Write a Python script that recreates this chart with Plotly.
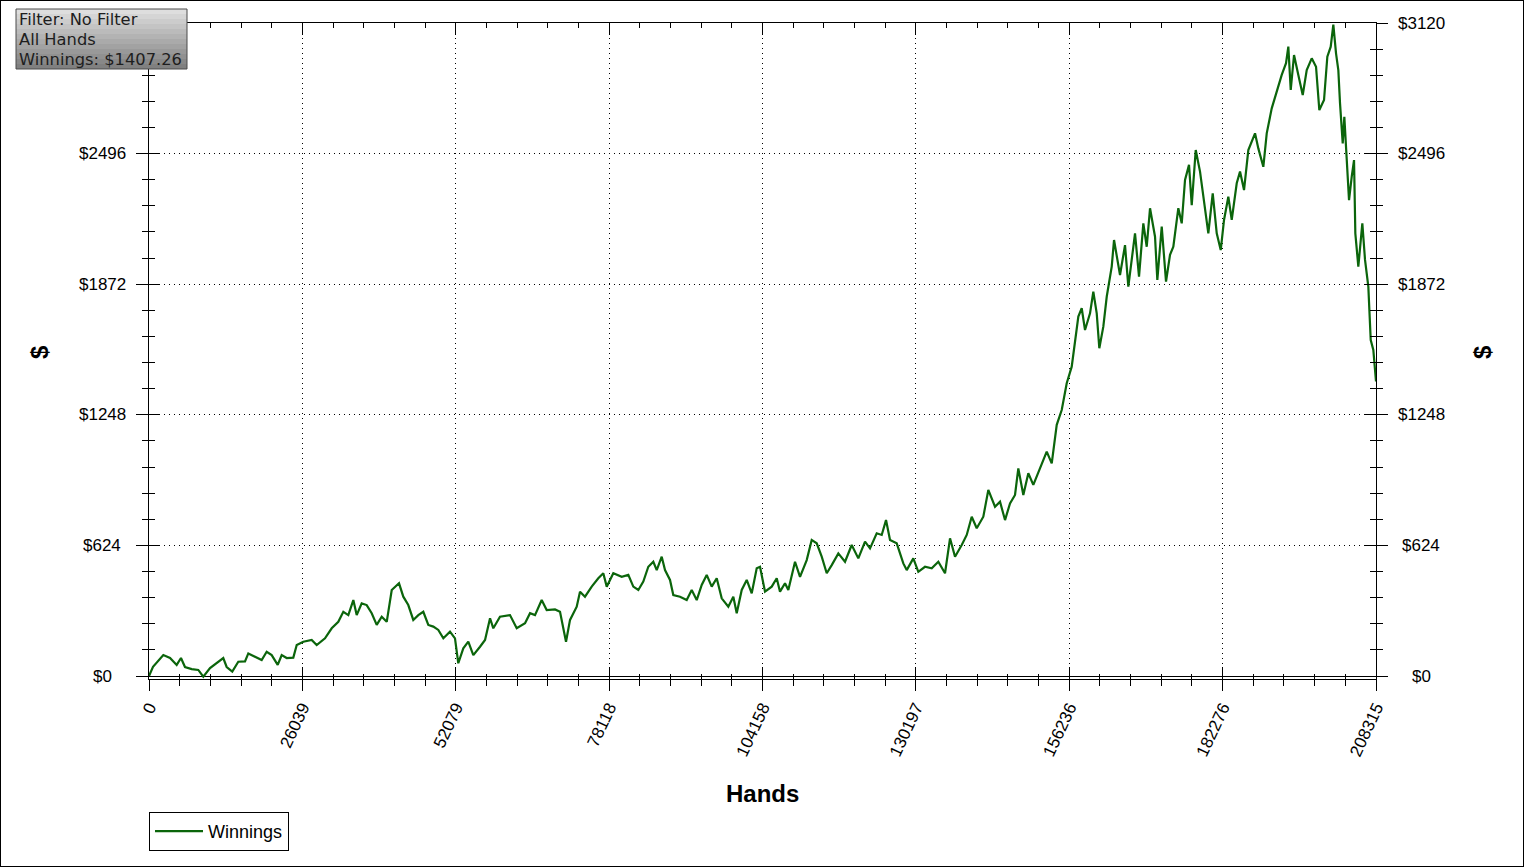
import plotly.graph_objects as go

# winnings curve (hands played, cumulative $)
hands = [0, 680, 2430, 3570, 4700, 5430, 6110, 7250, 8370, 9220,
         10360, 11490, 12610, 13190, 14140, 15160, 16300, 16860, 18000, 19130,
         19980, 20830, 21850, 22530, 23380, 24500, 25080, 26200, 27620, 28470,
         29880, 31020, 32140, 32990, 33840, 34690, 35260, 36110, 36960, 37810,
         38660, 39510, 40360, 41210, 42445, 43175, 44020, 44870, 45720, 46570,
         47420, 48270, 49120, 49970, 51100, 51950, 52510, 53360,
         54210, 55060, 56200, 57050, 57900, 58455, 59590, 61290, 62430, 63840,
         64690, 65535, 66670, 67520, 68930, 69780, 70800, 71480, 72615, 73175,
         74020, 75160, 76280, 77130, 77710, 78830, 80255, 81376, 82225, 83074,
         83920, 84770, 85620, 86200, 87046, 87606, 88455, 89016, 90153, 91291,
         92140, 92989, 93837, 94686, 95535, 96384, 97233, 98354, 99203, 99780,
         100629, 101478, 102327, 103176,
         103736, 104584, 105722, 106571, 107131, 107980, 108541, 109678, 110527, 111664,
         112513, 113362, 114211, 115060, 115909, 117030, 118167, 119305, 120426, 121563,
         122411, 123549, 124398, 125128, 125807, 126945, 128065, 128642, 129763, 130612,
         131749, 132887, 134007, 135145, 135994, 136843, 137980, 138829, 139678, 140527,
         141648, 142497, 143634, 144483, 145332, 146181, 147029, 147590, 148439, 149288,
         150137, 151274, 152412, 153261, 154110,
         154958, 155807, 156656, 157216, 157777, 158354, 158914, 159763, 160323, 160901,
         161342, 162021, 162598, 163447, 163838, 164856, 165705, 166266, 167403, 168082,
         168813, 169390, 169950, 170799, 171190, 171937, 172666, 173345, 173906, 174755,
         175332, 175892, 176571, 177030, 177709,
         178439, 179000, 179849, 180595, 181274, 181953, 182514, 183244, 183821, 184670,
         185230, 185909, 186640, 187777, 188338, 189187, 189763, 190612, 191461, 192310,
         193040, 193431, 193838, 194398, 195128, 195875, 196554, 197403, 198133, 198694,
         199492, 200052, 200629, 201071, 201529, 201920, 202208, 202667, 202939, 203346,
         203736, 204194, 204585, 204806, 205315, 205994, 206452, 207013, 207420, 207862,
         208315]

winnings = [0, 44, 100, 86, 53, 86, 43, 33, 29, -3,
            38, 62, 86, 43, 21, 68, 70, 108, 92, 76,
            116, 100, 53, 100, 86, 88, 148, 164, 172, 148,
            180, 228, 259, 307, 291, 363, 291, 347, 339, 300,
            244, 283, 259, 411, 443, 379, 339, 268, 291, 307,
            244, 236, 220, 180, 212, 180, 61, 132,
            164, 100, 140, 172, 276, 228, 283, 291, 228, 252,
            300, 291, 363, 315, 318, 307, 164, 268, 331, 403,
            379, 427, 467, 491, 427, 491, 474, 483, 427, 411,
            451, 522, 546, 506, 570, 506, 459, 387, 379, 363,
            411, 363, 435, 483, 427, 467, 371, 331, 379, 300,
            411, 459, 395, 515,
            522, 403, 427, 467, 403, 443, 411, 546, 474, 554,
            650, 634, 570, 491, 530, 586, 546, 626, 562, 642,
            610, 682, 674, 745, 650, 634, 538, 506, 562, 498,
            522, 515, 546, 491, 658, 570, 626, 674, 761, 706,
            761, 889, 809, 833, 745, 825, 865, 992, 865, 969,
            913, 992, 1072, 1016, 1200,
            1271, 1399, 1478, 1605, 1717, 1757, 1653, 1733, 1836, 1733,
            1566, 1669, 1812, 1956, 2083, 1916, 2059, 1860, 2115, 1908,
            2163, 2051, 2235, 2099, 1892, 2147, 1884, 2012, 2051, 2235,
            2163, 2370, 2442, 2250, 2513,
            2410, 2290, 2115, 2306, 2115, 2035, 2179, 2290, 2179, 2354,
            2410, 2322, 2513, 2593, 2521, 2433, 2593, 2712, 2792, 2872,
            2928, 3007, 2800, 2967, 2872, 2776, 2895, 2951, 2911, 2704,
            2752, 2959, 3007, 3112, 2975, 2895, 2736, 2545, 2672, 2450,
            2274, 2386, 2465, 2115, 1956, 2163, 1988, 1860, 1605, 1558,
            1407.26]

x_ticks = [0, 26039, 52079, 78118, 104158, 130197, 156236, 182276, 208315]
y_ticks = [0, 624, 1248, 1872, 2496, 3120]
y_labels = ["$0", "$624", "$1248", "$1872", "$2496", "$3120"]

info_lines = ["Filter: No Filter", "All Hands", "Winnings: $1407.26"]

W, H = 1524, 867
# plot box in pixels
L, R, T, B = 149, 1376, 23, 679
y_low = -14.3  # leaves the $0 line 3px above the axis line, as in the original

x_max = x_ticks[-1]
x_minor = x_max / 40
y_minor = y_ticks[1] / 5

tick_font = dict(family="Liberation Sans, Arial, sans-serif", size=17, color="black")
grid_dash = "1px,4px"

fig = go.Figure()
fig.add_trace(go.Scatter(x=hands, y=winnings, mode="lines", name="Winnings",
                         line=dict(color="#0b650b", width=2.2),
                         xaxis="x", yaxis="y", hoverinfo="x+y"))
# invisible copies so the overlay axes (extra tick sets) get drawn
fig.add_trace(go.Scatter(x=hands, y=winnings, mode="lines", opacity=0,
                         showlegend=False, hoverinfo="skip", xaxis="x2", yaxis="y3"))
fig.add_trace(go.Scatter(x=hands, y=winnings, mode="lines", opacity=0,
                         showlegend=False, hoverinfo="skip", xaxis="x", yaxis="y2"))

x_dom = [L / W, R / W]
y_dom = [1 - B / H, 1 - T / H]

fig.update_layout(
    width=W, height=H,
    margin=dict(l=0, r=0, t=0, b=0),
    paper_bgcolor="white", plot_bgcolor="white",
    xaxis=dict(domain=x_dom, range=[0, x_max], anchor="y",
               tickmode="array", tickvals=x_ticks, ticktext=[str(v) for v in x_ticks],
               ticks="outside", ticklen=11, tickcolor="black", tickangle=-65,
               tickfont=tick_font, showline=True, linecolor="black",
               showgrid=True, gridcolor="black", griddash=grid_dash, gridwidth=1,
               zeroline=False, automargin=False,
               minor=dict(tickmode="linear", tick0=0, dtick=x_minor, ticks="outside",
                          ticklen=6, tickcolor="black", showgrid=False)),
    xaxis2=dict(domain=x_dom, range=[0, x_max], overlaying="x", anchor="y3",
                tickmode="array", tickvals=x_ticks, showticklabels=False,
                ticks="inside", ticklen=12, tickcolor="black",
                showline=True, linecolor="black", mirror="ticks",
                showgrid=False, zeroline=False, automargin=False,
                minor=dict(tickmode="linear", tick0=0, dtick=x_minor, ticks="inside",
                           ticklen=5, tickcolor="black", showgrid=False)),
    yaxis=dict(domain=y_dom, range=[y_low, y_ticks[-1]], anchor="x",
               tickmode="array", tickvals=y_ticks, showticklabels=False,
               ticks="outside", ticklen=12, tickcolor="black",
               showline=True, linecolor="black",
               showgrid=True, gridcolor="black", griddash=grid_dash, gridwidth=1,
               zeroline=True, zerolinecolor="black", zerolinewidth=1, automargin=False,
               minor=dict(tickmode="linear", tick0=0, dtick=y_minor, ticks="outside",
                          ticklen=6, tickcolor="black", showgrid=False)),
    yaxis2=dict(domain=y_dom, range=[y_low, y_ticks[-1]], overlaying="y", side="right",
                anchor="x", tickmode="array", tickvals=y_ticks, showticklabels=False,
                ticks="outside", ticklen=11, tickcolor="black",
                showline=True, linecolor="black", showgrid=False, zeroline=False,
                automargin=False,
                minor=dict(tickmode="linear", tick0=0, dtick=y_minor, ticks="outside",
                           ticklen=6, tickcolor="black", showgrid=False)),
    yaxis3=dict(domain=y_dom, range=[y_low, y_ticks[-1]], overlaying="y", side="left",
                anchor="x2", tickmode="array", tickvals=y_ticks, showticklabels=False,
                ticks="inside", ticklen=11, tickcolor="black", mirror="ticks",
                showline=True, linecolor="black", showgrid=False, zeroline=False,
                automargin=False,
                minor=dict(tickmode="linear", tick0=0, dtick=y_minor, ticks="inside",
                           ticklen=6, tickcolor="black", showgrid=False)),
    showlegend=True,
    legend=dict(x=L / W, y=1 - 812 / H, xanchor="left", yanchor="top",
                bgcolor="white", bordercolor="black", borderwidth=1, itemwidth=48,
                font=dict(family="Liberation Sans, Arial, sans-serif", size=18, color="black")),
    hovermode="closest",
)

# centred $ labels on both sides (plotly can't centre tick labels itself);
# the left $3120 sits under the info box in the original, so it is not shown
for v, lab in zip(y_ticks, y_labels):
    for xc in (102, 1421):
        if xc == 102 and v == y_ticks[-1]:
            continue
        fig.add_annotation(x=xc / W, xref="paper", y=v, yref="y", text=lab,
                           showarrow=False, xanchor="center", yanchor="middle",
                           font=tick_font)

title_font = dict(family="Liberation Sans, Arial, sans-serif", size=24, color="black")
fig.add_annotation(x=762 / W, y=1 - 793 / H, xref="paper", yref="paper", text="<b>Hands</b>",
                   showarrow=False, xanchor="center", yanchor="middle", font=title_font)
for xc in (40, 1483):
    fig.add_annotation(x=xc / W, y=1 - 352 / H, xref="paper", yref="paper", text="<b>$</b>",
                       showarrow=False, xanchor="center", yanchor="middle",
                       textangle=-90, font=title_font)

# grey info box, faked gradient with thin strips
bx0, bx1, by0, by1 = 16, 187, 9, 69
n = 12
for i in range(n):
    c = int(222 - (222 - 128) * i / (n - 1))
    fig.add_shape(type="rect", xref="paper", yref="paper",
                  x0=bx0 / W, x1=bx1 / W,
                  y0=1 - (by0 + (by1 - by0) * (i + 1) / n) / H,
                  y1=1 - (by0 + (by1 - by0) * i / n) / H,
                  fillcolor=f"rgb({c},{c},{c})", line=dict(width=0), layer="above")
fig.add_shape(type="rect", xref="paper", yref="paper",
              x0=bx0 / W, x1=bx1 / W, y0=1 - by1 / H, y1=1 - by0 / H,
              line=dict(color="#4a4a4a", width=1), layer="above")
# one annotation per line so the 20px line pitch of the original is kept
for k, line in enumerate(info_lines):
    fig.add_annotation(x=17 / W, y=1 - (19 + 20 * k) / H, xref="paper", yref="paper",
                       text=line, showarrow=False, align="left",
                       xanchor="left", yanchor="middle",
                       font=dict(family="DejaVu Sans, Verdana, sans-serif", size=16.3,
                                 color="#1e1e1e"))

# outer frame
fig.add_shape(type="rect", xref="paper", yref="paper", x0=0, x1=1, y0=0, y1=1,
              line=dict(color="black", width=2), layer="above")

fig.write_html("out.html", config={"displayModeBar": False},
               post_script="document.body.style.margin='0';")
